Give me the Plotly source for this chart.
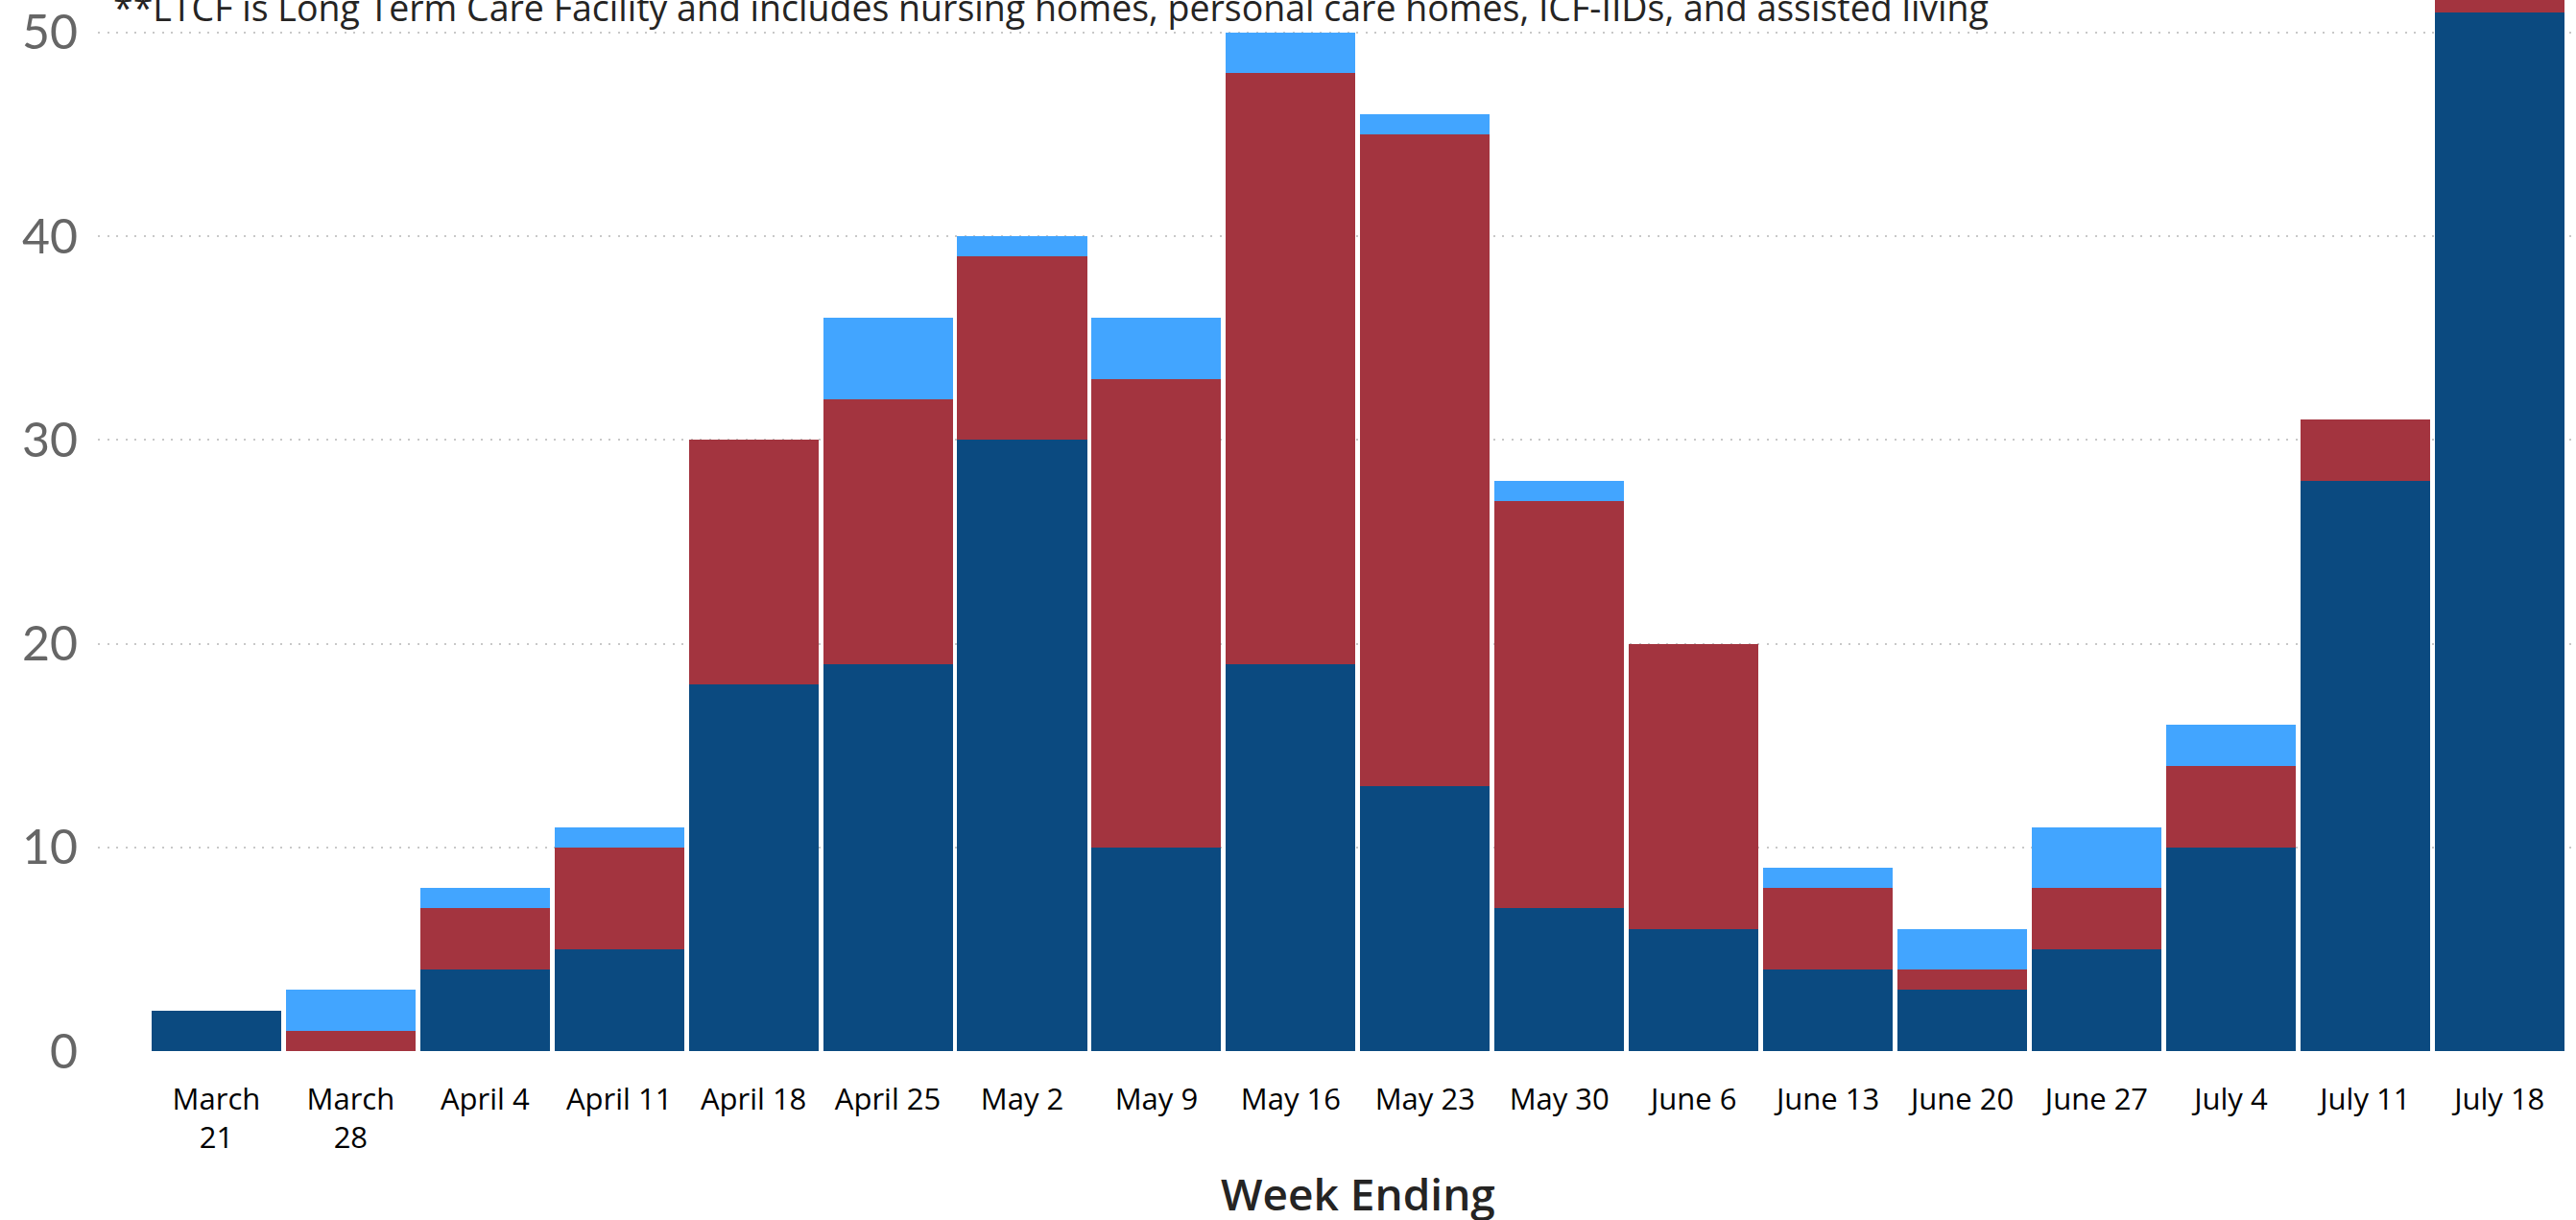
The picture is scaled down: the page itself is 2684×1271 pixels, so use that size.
import plotly.graph_objects as go

weeks = ["March 21", "March 28", "April 4", "April 11", "April 18", "April 25",
         "May 2", "May 9", "May 16", "May 23", "May 30", "June 6",
         "June 13", "June 20", "June 27", "July 4", "July 11", "July 18"]
week_labels = ["March<br>21", "March<br>28", "April 4", "April 11", "April 18", "April 25",
               "May 2", "May 9", "May 16", "May 23", "May 30", "June 6",
               "June 13", "June 20", "June 27", "July 4", "July 11", "July 18"]

community = [2, 0, 4, 5, 18, 19, 30, 10, 19, 13, 7, 6, 4, 3, 5, 10, 28, 51]
ltcf = [0, 1, 3, 5, 12, 13, 9, 23, 29, 32, 20, 14, 4, 1, 3, 4, 3, 3]
other = [0, 2, 1, 1, 0, 4, 1, 3, 2, 1, 1, 0, 1, 2, 3, 2, 0, 0]

y_ticks = [0, 10, 20, 30, 40, 50]

note = "**LTCF is Long Term Care Facility and includes nursing homes, personal care homes, ICF-IIDs, and assisted living"

W, H = 2684, 1271
ML, MR, MT, MB = 102, 0, 0, 175.5

fig = go.Figure()
fig.add_trace(go.Bar(x=weeks, y=community, name="Community", marker=dict(color="#0B4A80", line=dict(width=0))))
fig.add_trace(go.Bar(x=weeks, y=ltcf, name="LTCF**", marker=dict(color="#A3343F", line=dict(width=0))))
fig.add_trace(go.Bar(x=weeks, y=other, name="Other", marker=dict(color="#42A5FF", line=dict(width=0))))

fig.update_layout(
    width=W, height=H,
    margin=dict(l=ML, r=MR, t=MT, b=MB, pad=0),
    barmode="stack",
    bargap=0.035,
    showlegend=False,
    plot_bgcolor="white",
    paper_bgcolor="white",
    font=dict(family="Open Sans", color="#252423"),
    xaxis=dict(
        type="category",
        range=[-0.882, 17.57],
        tickmode="array", tickvals=weeks, ticktext=week_labels,
        tickfont=dict(family="Open Sans", size=31, color="#000000"),
        ticks="", showgrid=False, showline=False, zeroline=False,
        ticklabelstandoff=29,
    ),
    yaxis=dict(
        range=[0, 51.6],
        tickmode="array", tickvals=y_ticks,
        tickfont=dict(family="Lato", size=50, color="#666666"),
        showgrid=True, gridcolor="#C8C8C8", gridwidth=2, griddash="2px,7.5px",
        zeroline=False, showline=False, ticks="",
        ticklabelstandoff=20,
    ),
    annotations=[
        dict(text=note, xref="paper", yref="paper", x=0.0054, y=0.968,
             xanchor="left", yanchor="bottom", showarrow=False,
             font=dict(family="Open Sans", size=37.5, color="#252423")),
        dict(text="Week Ending", xref="x", yref="paper", x=8.5, y=-0.1356,
             xanchor="center", yanchor="middle", showarrow=False,
             font=dict(family="Open Sans", size=46, weight=600, color="#252423")),
    ],
)

fig.write_html("out.html", config={"displayModeBar": False},
               post_script="document.body.style.margin='0';")
